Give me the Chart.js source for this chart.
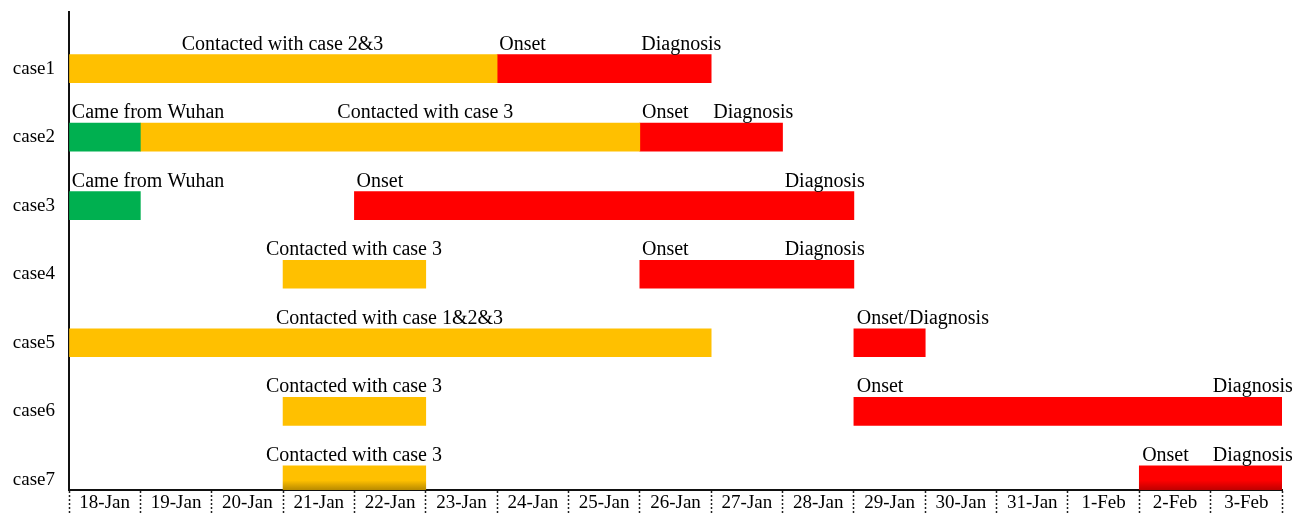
<!DOCTYPE html>
<html>
<head>
<meta charset="UTF-8">
<title>Case timeline</title>
<script src="https://cdn.jsdelivr.net/npm/chart.js"></script>
<style>
  html, body { margin: 0; padding: 0; background: #fff; }
  #wrap { width: 1294px; height: 514px; }
</style>
</head>
<body>
<div id="wrap"><canvas id="timeline"></canvas></div>

<script>
// days on the x axis (each bar is measured in days from the start of 18-Jan)
const days = ['18-Jan', '19-Jan', '20-Jan', '21-Jan', '22-Jan', '23-Jan', '24-Jan', '25-Jan', '26-Jan',
              '27-Jan', '28-Jan', '29-Jan', '30-Jan', '31-Jan', '1-Feb', '2-Feb', '3-Feb'];
const cases = ['case1', 'case2', 'case3', 'case4', 'case5', 'case6', 'case7'];

// [case index, start day, end day]
const wuhanSpans = [[1, 0, 1], [2, 0, 1]];
const contactSpans = [[0, 0, 6], [1, 1, 8], [3, 3, 5], [4, 0, 9], [5, 3, 5], [6, 3, 5]];
const illnessSpans = [[0, 6, 9], [1, 8, 10], [2, 4, 11], [3, 8, 11], [4, 11, 12], [5, 11, 17], [6, 15, 17]];

// text notes above the bars: case index, day where the text starts, text
const noteCase = [0, 0, 0, 1, 1, 1, 1, 2, 2, 2, 3, 3, 3, 4, 4, 5, 5, 5, 6, 6, 6];
const noteDay = [1.58, 6.03, 8.02, 0.04, 3.76, 8.03, 9.03, 0.04, 4.03, 10.03, 2.76, 8.03, 10.03,
                 2.9, 11.04, 2.76, 11.04, 16.03, 2.76, 15.04, 16.03];
const noteText = ['Contacted with case 2&3', 'Onset', 'Diagnosis',
                  'Came from Wuhan', 'Contacted with case 3', 'Onset', 'Diagnosis',
                  'Came from Wuhan', 'Onset', 'Diagnosis',
                  'Contacted with case 3', 'Onset', 'Diagnosis',
                  'Contacted with case 1&2&3', 'Onset/Diagnosis',
                  'Contacted with case 3', 'Onset', 'Diagnosis',
                  'Contacted with case 3', 'Onset', 'Diagnosis'];

const FONT = '"Liberation Serif", "Times New Roman", serif';
const BAR_H = 28;

function toPoints(spans) {
  return spans.map(s => ({ y: s[0], x: [s[1], s[2]] }));
}

// last row has a darker shade at its bottom edge
function shaded(base, dark) {
  return function (ctx) {
    const chart = ctx.chart;
    const raw = ctx.raw;
    if (!raw || raw.y !== 6 || !chart.chartArea) return base;
    const yc = chart.scales.y.getPixelForValue(6);
    const g = chart.ctx.createLinearGradient(0, yc - BAR_H / 2, 0, chart.chartArea.bottom);
    g.addColorStop(0, base);
    g.addColorStop(0.6, base);
    g.addColorStop(1, dark);
    return g;
  };
}

// notes drawn from the data scales
const notesPlugin = {
  id: 'notes',
  afterDatasetsDraw(chart) {
    const c = chart.ctx;
    const xs = chart.scales.x, ys = chart.scales.y;
    c.save();
    c.font = '20px ' + FONT;
    c.fillStyle = '#000';
    c.textAlign = 'left';
    c.textBaseline = 'alphabetic';
    noteText.forEach((t, i) => {
      const px = xs.getPixelForValue(noteDay[i]);
      const py = ys.getPixelForValue(noteCase[i]) - BAR_H / 2 - 5;
      c.fillText(t, px, py);
    });
    c.restore();
  }
};

new Chart(document.getElementById('timeline'), {
  type: 'bar',
  data: {
    datasets: [
      { label: 'Came from Wuhan', data: toPoints(wuhanSpans), backgroundColor: '#00B050' },
      { label: 'Contacted', data: toPoints(contactSpans), backgroundColor: shaded('#FFC000', '#B88A00') },
      { label: 'Onset', data: toPoints(illnessSpans), backgroundColor: shaded('#FF0000', '#C00000') }
    ]
  },
  options: {
    indexAxis: 'y',
    responsive: true,
    maintainAspectRatio: false,
    animation: false,
    layout: { padding: { left: 13, right: 12, top: 12, bottom: 0 } },
    datasets: { bar: { grouped: false, barThickness: BAR_H, borderWidth: 0, borderSkipped: false } },
    plugins: { legend: { display: false }, tooltip: { enabled: false } },
    scales: {
      x: {
        type: 'linear',
        offset: false,
        min: 0,
        max: days.length,
        afterBuildTicks(scale) {
          scale.ticks = days.concat(['']).map((d, i) => ({ value: i }));
        },
        afterFit(scale) {
          scale.height = 24;
          scale.paddingLeft = 0;
          scale.paddingRight = 0;
        },
        ticks: {
          autoSkip: false,
          maxRotation: 0,
          color: '#000',
          font: { family: FONT, size: 19 },
          padding: -23,
          labelOffset: 35.7,
          callback: (v, i) => days[i] || ''
        },
        grid: {
          drawOnChartArea: false,
          drawTicks: true,
          tickLength: 25,
          tickColor: '#222',
          tickWidth: 1.5,
          tickBorderDash: [2, 2]
        },
        border: { display: true, color: '#111', width: 2 }
      },
      y: {
        type: 'linear',
        offset: false,
        reverse: true,
        min: -0.826,
        max: 6.148,
        afterBuildTicks(scale) {
          scale.ticks = cases.map((c, i) => ({ value: i }));
        },
        afterFit(scale) {
          scale.width = 56;
          scale.paddingTop = 0;
          scale.paddingBottom = 0;
        },
        ticks: {
          autoSkip: false,
          color: '#000',
          font: { family: FONT, size: 19 },
          padding: 14,
          callback: (v, i) => cases[i]
        },
        grid: { drawOnChartArea: false, drawTicks: false },
        border: { display: true, color: '#111', width: 2 }
      }
    }
  },
  plugins: [notesPlugin]
});
</script>
</body>
</html>
